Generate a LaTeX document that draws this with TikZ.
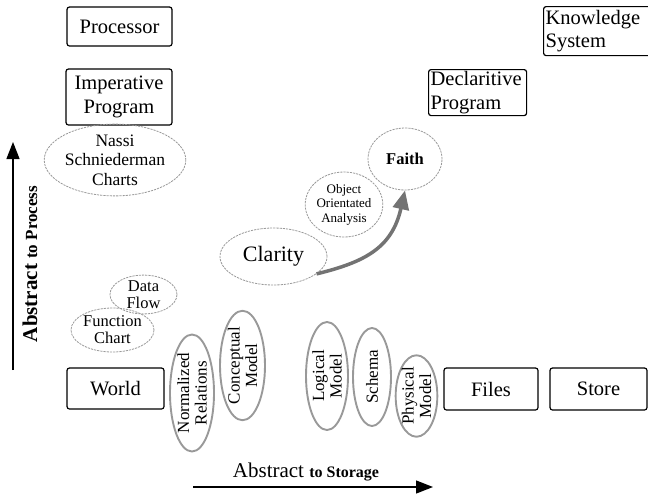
\documentclass[tikz,border=0pt]{standalone}
\usepackage{fontspec}
\setmainfont{Liberation Serif}
\usetikzlibrary{shapes.geometric,arrows.meta}

\tikzset{
  box/.style={draw, line width=1.2pt, rounded corners=2.5pt, inner sep=0pt,
    align=center, font=\fontsize{20.5}{23.5}\selectfont},
  leftbox/.style={box, align=left, inner xsep=2pt, anchor=north west},
  soft/.style={ellipse, draw=gray!80, dash pattern=on 2.2pt off 1pt,
    line width=0.8pt, inner sep=0pt, align=center},
  rough/.style={ellipse, draw=gray!80, line width=1.9pt, inner sep=0pt,
    align=center, rotate=90, font=\fontsize{17}{17.5}\selectfont},
  axis/.style={line width=1.3pt, -{Triangle[length=17pt,width=13pt]}},
}

\begin{document}
\begin{tikzpicture}[x=1pt,y=-1pt]
\clip (0,0) rectangle (648,496);

% process side: machine and programs
\node[box, minimum width=105, minimum height=39] (processor) at (119.5,26.5) {Processor};
\node[box, minimum width=106, minimum height=56] (imperative) at (119,97) {Imperative\\Program};
\node[leftbox, minimum height=49, text width=113] (knowledge) at (543,6) {Knowledge\\System};
\node[leftbox, minimum height=46, text width=94] (declarative) at (428,69) {Declaritive\\Program};

% storage side
\node[box, minimum width=97, minimum height=41] (world) at (115.5,388.5) {World};
\node[box, minimum width=94, minimum height=42] (files) at (491,389) {Files};
\node[box, minimum width=97, minimum height=42] (store) at (598.5,389) {Store};

% soft notations
\node[soft, minimum width=130, minimum height=65, font=\fontsize{17.5}{19.5}\selectfont] (nassi) at (115,160) {Nassi\\Schniederman\\Charts};
\node[soft, minimum width=67, minimum height=35, font=\fontsize{16.5}{16.5}\selectfont] (dataflow) at (143.5,294.5) {Data\\Flow};
\node[soft, minimum width=83, minimum height=44, font=\fontsize{16.5}{17}\selectfont] (function) at (112.5,330) {Function\\Chart};
\node[soft, minimum width=107, minimum height=57, font=\fontsize{22}{24}\selectfont] (clarity) at (273.5,256.5) {Clarity};
\node[soft, minimum width=68, minimum height=65, font=\fontsize{13}{14.5}\selectfont] (ooa) at (344,204.5) {Object\\Orientated\\Analysis};
\node[soft, minimum width=74, minimum height=62, font=\bfseries\fontsize{16.5}{18}\selectfont] (faith) at (405,159) {Faith};

% data models
\node[rough, minimum width=117, minimum height=44] (normalized) at (192,393) {Normalized\\Relations};
\node[rough, minimum width=105, minimum height=45] (conceptual) at (242.5,365.5) {Conceptual\\Model};
\node[rough, minimum width=108, minimum height=42] (logical) at (327,376) {Logical\\Model};
\node[rough, minimum width=98, minimum height=38] (schema) at (372,377) {Schema};
\node[rough, minimum width=78, minimum height=41] (physical) at (416.5,396) {Physical\\Model};

% clarity leads to faith
\draw[black!55, line width=3.5pt, -{Triangle[length=19pt,width=16pt]}]
  (clarity.-22) .. controls (365,262) and (392,248) .. (faith.south);

% axes
\coordinate (vstart) at (13,370);
\coordinate (vend) at (13,142);
\draw[axis] (vstart) -- (vend);
\node[rotate=90, font=\bfseries, inner sep=0pt] (vlabel) at (30,264)
  {{\fontsize{21}{22}\selectfont Abstract\ }{\fontsize{17}{18}\selectfont to Process}};

\coordinate (hstart) at (193,487);
\coordinate (hend) at (433,487);
\draw[axis] (hstart) -- (hend);
\node[inner sep=0pt, anchor=base] (hlabel) at (306,477)
  {{\fontsize{21}{22}\selectfont Abstract\ }{\bfseries\fontsize{16}{17}\selectfont to Storage}};
\end{tikzpicture}
\end{document}
